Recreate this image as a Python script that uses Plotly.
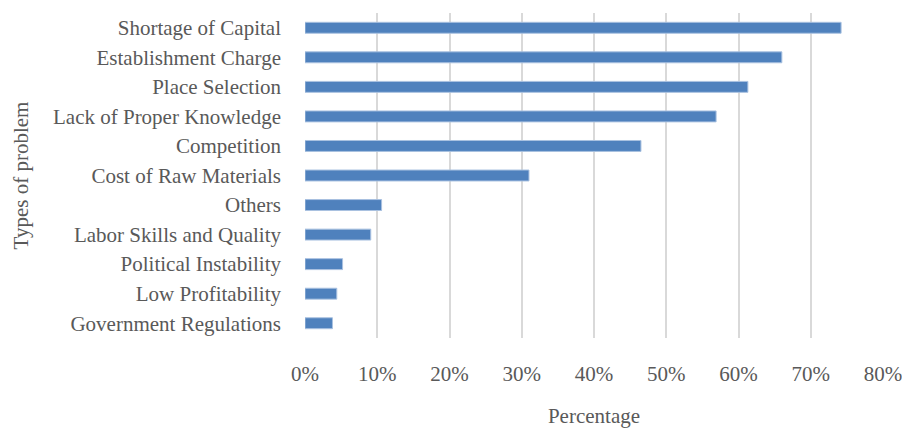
import plotly.graph_objects as go

categories = [
    "Government Regulations",
    "Low Profitability",
    "Political Instability",
    "Labor Skills and Quality",
    "Others",
    "Cost of Raw Materials",
    "Competition",
    "Lack of Proper Knowledge",
    "Place Selection",
    "Establishment Charge",
    "Shortage of Capital",
]
values = [0.038, 0.044, 0.052, 0.091, 0.106, 0.310, 0.465, 0.569, 0.613, 0.660, 0.742]
tick_vals = [0, 0.1, 0.2, 0.3, 0.4, 0.5, 0.6, 0.7, 0.8]
tick_text = ["0%", "10%", "20%", "30%", "40%", "50%", "60%", "70%", "80%"]

font_family = "Liberation Serif"
text_color = "#595959"
fs = 21

fig = go.Figure(
    go.Bar(
        x=values,
        y=categories,
        orientation="h",
        width=0.37,
        marker=dict(color="#4F81BD", line=dict(color="#A9C1E0", width=1)),
    )
)

fig.update_layout(
    width=902,
    height=428,
    margin=dict(l=305, r=19, t=13, b=90),
    paper_bgcolor="white",
    plot_bgcolor="white",
    showlegend=False,
    font=dict(family=font_family, size=fs, color=text_color),
)

fig.update_xaxes(
    range=[0, 0.8],
    tickvals=tick_vals,
    ticktext=tick_text,
    showgrid=True,
    gridcolor="#D9D9D9",
    gridwidth=2,
    zeroline=False,
    showline=False,
    ticks="",
    automargin=False,
    ticklabeloverflow="allow",
    ticklabelstandoff=21,
    tickfont=dict(family=font_family, size=fs, color=text_color),
    title=dict(text="Percentage", standoff=24,
               font=dict(family=font_family, size=fs, color=text_color)),
)

fig.update_yaxes(
    range=[-0.5, 10.5],
    showgrid=False,
    zeroline=False,
    showline=False,
    ticks="",
    automargin=False,
    ticklabelstandoff=23,
    tickfont=dict(family=font_family, size=fs, color=text_color),
    title=dict(text="Types of problem", standoff=18,
               font=dict(family=font_family, size=fs, color=text_color)),
)

fig.write_html(
    "out.html",
    config={"displayModeBar": False},
    post_script="document.body.style.margin='0';document.body.style.overflow='hidden';",
)
